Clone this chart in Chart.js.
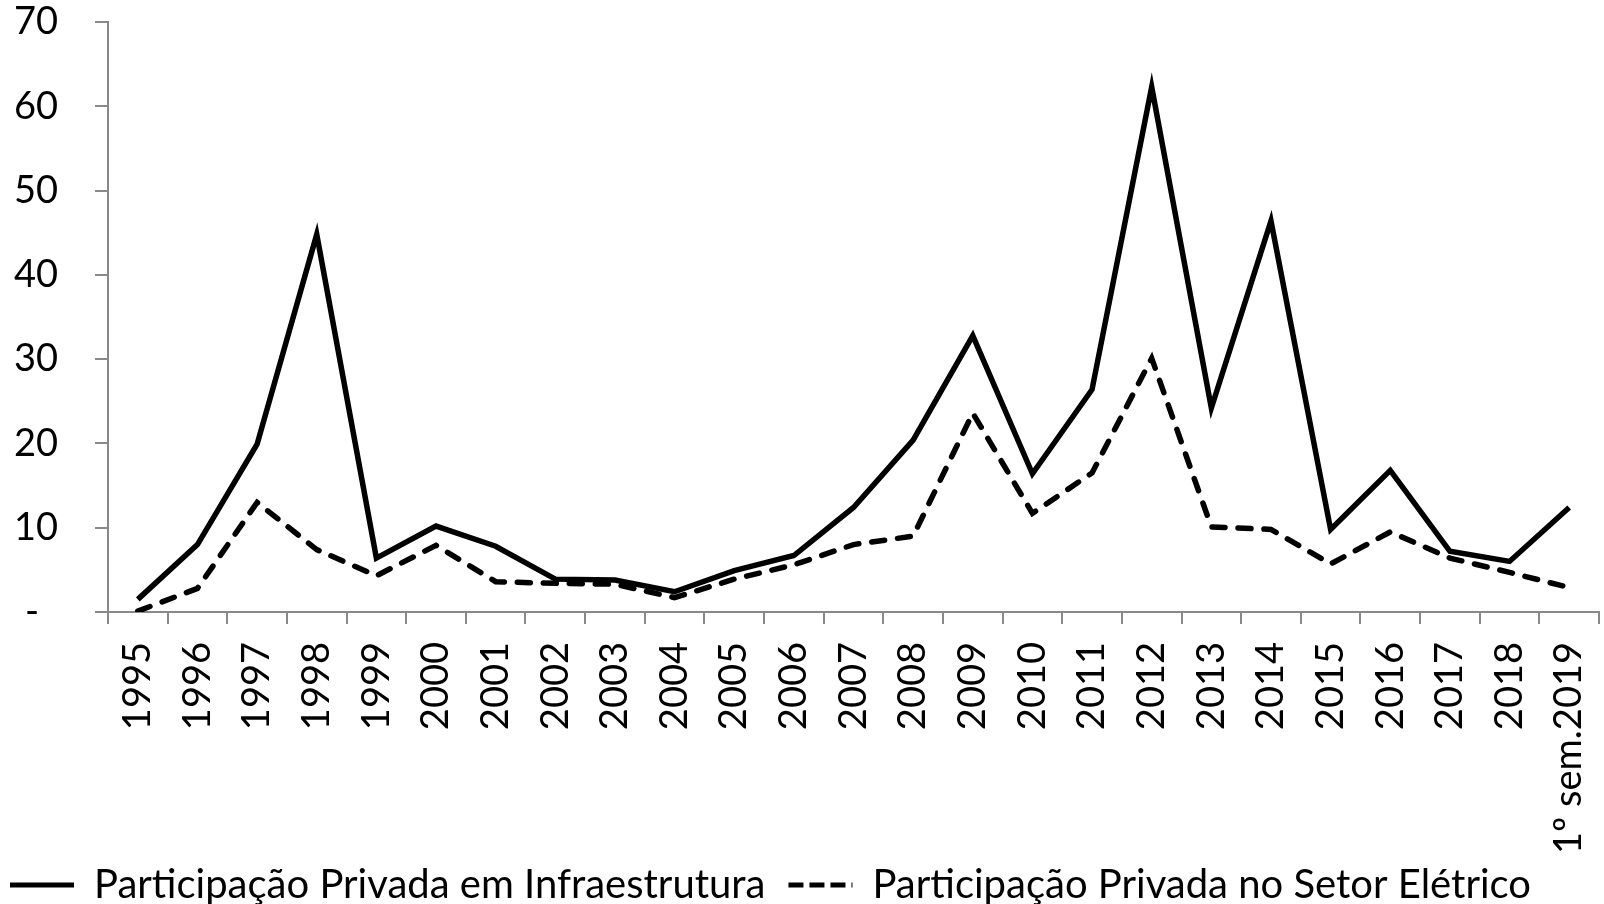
<!DOCTYPE html>
<html>
<head>
<meta charset="utf-8">
<script src="https://cdn.jsdelivr.net/npm/chart.js@4"></script>
<style>
  body { margin: 0; background: #fff; }
  canvas { display: block; }
</style>
</head>
<body>
<canvas id="myChart" width="1604" height="904"></canvas>
<script>
const years = [
  "1995", "1996", "1997", "1998", "1999", "2000", "2001", "2002", "2003",
  "2004", "2005", "2006", "2007", "2008", "2009", "2010", "2011", "2012",
  "2013", "2014", "2015", "2016", "2017", "2018", "1º sem.2019",
];
const infraValues = [
  1.5, 8.0, 19.9, 44.8, 6.4, 10.2, 7.8, 3.9, 3.8, 2.4, 4.9, 6.7, 12.4,
  20.4, 32.8, 16.4, 26.4, 62.3, 24.2, 46.4, 9.8, 16.8, 7.2, 6.0, 12.4,
];
const eletricoValues = [
  0.1, 2.8, 13.0, 7.4, 4.3, 7.9, 3.6, 3.4, 3.3, 1.7, 3.9, 5.6, 8.0,
  9.0, 23.6, 11.7, 16.5, 30.1, 10.1, 9.8, 5.7, 9.5, 6.4, 4.7, 2.9,
];
const yTicks = [0, 10, 20, 30, 40, 50, 60, 70];

const fontFamily = "Lato, 'Open Sans', sans-serif";
const axisGray = "#898989";

const data = {
  labels: years,
  datasets: [
    {
      label: "Participação Privada em Infraestrutura",
      data: infraValues,
      borderColor: "#000",
      backgroundColor: "#000",
      borderWidth: 5.5,
      pointRadius: 0,
      tension: 0,
      borderJoinStyle: "miter",
    },
    {
      label: "Participação Privada no Setor Elétrico",
      data: eletricoValues,
      borderColor: "#000",
      backgroundColor: "#000",
      borderWidth: 5.5,
      borderDash: [13, 13],
      borderCapStyle: "round",
      pointRadius: 0,
      tension: 0,
    },
  ],
};

const config = {
  type: "line",
  data: data,
  options: {
    responsive: false,
    animation: false,
    layout: {
      padding: { top: 22, right: 5, bottom: -11, left: 10 },
    },
    scales: {
      x: {
        offset: true,
        afterFit: (scale) => {
          scale.height = 253;
          scale.paddingLeft = 0;
          scale.paddingRight = 0;
        },
        grid: {
          offset: true,
          drawOnChartArea: false,
          drawTicks: true,
          tickLength: 12,
          color: axisGray,
          lineWidth: 2,
        },
        border: { display: true, color: axisGray, width: 2 },
        ticks: {
          color: "#000",
          font: { family: fontFamily, size: 38 },
          minRotation: 90,
          maxRotation: 90,
          autoSkip: false,
          padding: 18,
        },
      },
      y: {
        min: 0,
        max: 70,
        afterFit: (scale) => {
          scale.width = 98;
          scale.paddingTop = 0;
          scale.paddingBottom = 0;
        },
        afterBuildTicks: (scale) => {
          scale.ticks = yTicks.map((v) => ({ value: v }));
        },
        grid: {
          drawOnChartArea: false,
          drawTicks: true,
          tickLength: 13,
          color: axisGray,
          lineWidth: 2,
        },
        border: { display: true, color: axisGray, width: 2 },
        ticks: {
          color: "#000",
          font: { family: fontFamily, size: 38 },
          padding: 37,
          callback: (value) => (value === 0 ? "-\u2002" : value),
        },
      },
    },
    plugins: {
      legend: {
        position: "bottom",
        align: "start",
        labels: {
          color: "#000",
          font: { family: fontFamily, size: 40 },
          usePointStyle: true,
          pointStyle: "line",
          pointStyleWidth: 64,
          padding: 0,
          generateLabels: (chart) => {
            const items = Chart.defaults.plugins.legend.labels.generateLabels(chart);
            items.forEach((item, i) => {
              const ds = chart.data.datasets[item.datasetIndex];
              item.lineDash = ds.borderDash ? [15, 6] : [];
              item.lineCap = "butt";
              item.lineWidth = 5;
              // gap before the next entry
              if (i < items.length - 1) item.text += "  \u200A";
            });
            return items;
          },
        },
      },
      tooltip: { enabled: false },
    },
  },
};

const myChart = new Chart(document.getElementById("myChart"), config);
</script>
</body>
</html>
